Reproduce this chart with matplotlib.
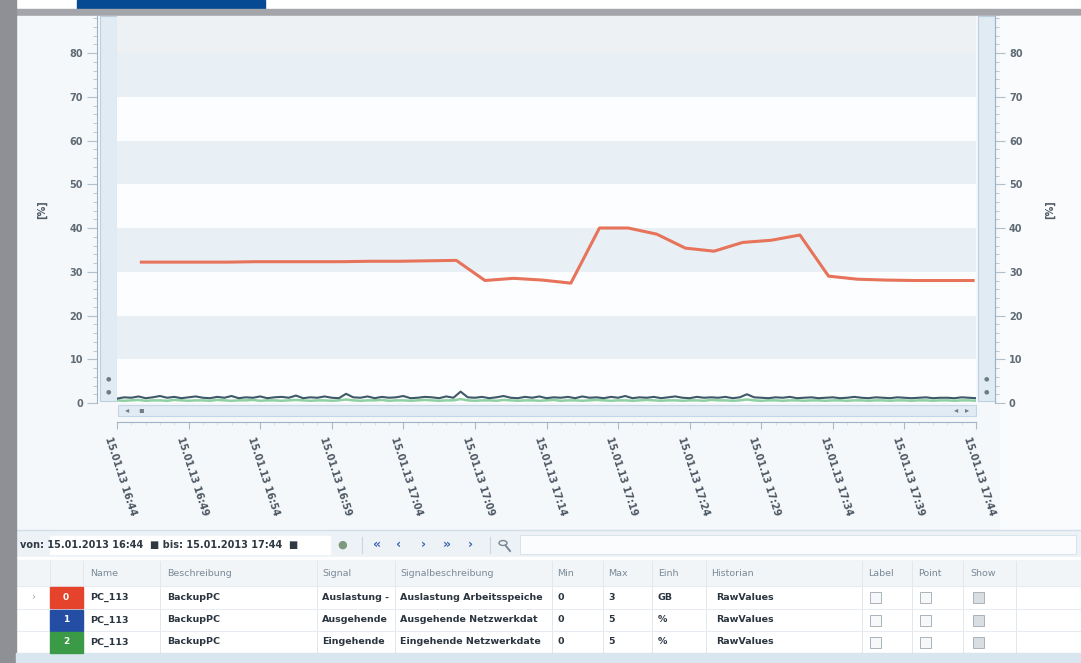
import numpy as np
import matplotlib
matplotlib.use("Agg")
import matplotlib.pyplot as plt
from matplotlib.patches import Rectangle, Circle
from matplotlib.lines import Line2D
from matplotlib.transforms import ScaledTranslation

# ---------------- data ----------------
tick_labels = ["15.01.13 16:44", "15.01.13 16:49", "15.01.13 16:54", "15.01.13 16:59",
               "15.01.13 17:04", "15.01.13 17:09", "15.01.13 17:14", "15.01.13 17:19",
               "15.01.13 17:24", "15.01.13 17:29", "15.01.13 17:34", "15.01.13 17:39",
               "15.01.13 17:44"]
tick_minutes = [0, 5, 10, 15, 20, 25, 30, 35, 40, 45, 50, 55, 60]

# series 0: Auslastung Arbeitsspeicher (minutes after 16:44)
red_t = [1.7, 3.7, 5.7, 7.7, 9.7, 11.7, 13.7, 15.7, 17.7, 19.7,
         21.7, 23.7, 25.7, 27.7, 29.7, 31.7, 33.7, 35.7, 37.7, 39.7,
         41.7, 43.7, 45.7, 47.7, 49.7, 51.7, 53.7, 55.7, 57.7, 59.8]
red_v = [32.2, 32.2, 32.2, 32.2, 32.3, 32.3, 32.3, 32.3, 32.4, 32.4,
         32.5, 32.6, 28.0, 28.5, 28.1, 27.4, 40.0, 40.0, 38.6, 35.4,
         34.7, 36.7, 37.2, 38.4, 29.0, 28.3, 28.1, 28.0, 28.0, 28.0]

# series 1: Ausgehende Netzwerkdaten (one sample per half minute)
blue_v = [1.0, 1.3, 1.2, 1.5, 1.1, 1.3, 1.6, 1.2, 1.4, 1.1,
          1.3, 1.5, 1.2, 1.1, 1.4, 1.2, 1.6, 1.1, 1.3, 1.2,
          1.5, 1.1, 1.3, 1.4, 1.2, 1.7, 1.1, 1.3, 1.2, 1.5,
          1.2, 1.1, 2.1, 1.3, 1.2, 1.5, 1.1, 1.4, 1.2, 1.3,
          1.6, 1.1, 1.2, 1.4, 1.3, 1.1, 1.5, 1.2, 2.6, 1.3,
          1.2, 1.4, 1.1, 1.3, 1.6, 1.2, 1.1, 1.4, 1.2, 1.5,
          1.1, 1.3, 1.2, 1.4, 1.1, 1.5, 1.2, 1.3, 1.1, 1.4,
          1.2, 1.6, 1.1, 1.3, 1.2, 1.4, 1.1, 1.3, 1.5, 1.2,
          1.1, 1.4, 1.2, 1.3, 1.2, 1.4, 1.1, 1.3, 2.0, 1.3,
          1.2, 1.1, 1.3, 1.2, 1.4, 1.1, 1.2, 1.3, 1.1, 1.2,
          1.3, 1.1, 1.2, 1.4, 1.2, 1.1, 1.3, 1.2, 1.1, 1.3,
          1.2, 1.1, 1.2, 1.3, 1.1, 1.2, 1.2, 1.1, 1.3, 1.2, 1.1]
# series 2: Eingehende Netzwerkdaten
green_v = [0.6, 0.5, 0.6, 0.7, 0.5, 0.6, 0.6, 0.5, 0.7, 0.6,
           0.5, 0.6, 0.6, 0.5, 0.7, 0.6, 0.5, 0.6, 0.6, 0.7,
           0.5, 0.6, 0.6, 0.5, 0.6, 0.7, 0.6, 0.5, 0.6, 0.6,
           0.5, 0.6, 0.8, 0.6, 0.5, 0.6, 0.6, 0.7, 0.5, 0.6,
           0.6, 0.5, 0.6, 0.7, 0.6, 0.5, 0.6, 0.6, 0.9, 0.6,
           0.5, 0.6, 0.6, 0.5, 0.7, 0.6, 0.5, 0.6, 0.6, 0.5,
           0.6, 0.7, 0.5, 0.6, 0.6, 0.5, 0.6, 0.7, 0.6, 0.5,
           0.6, 0.6, 0.5, 0.6, 0.7, 0.6, 0.5, 0.6, 0.6, 0.5,
           0.6, 0.6, 0.5, 0.7, 0.6, 0.6, 0.5, 0.6, 0.8, 0.6,
           0.5, 0.6, 0.6, 0.5, 0.6, 0.6, 0.5, 0.6, 0.6, 0.5,
           0.6, 0.6, 0.5, 0.6, 0.6, 0.5, 0.6, 0.6, 0.5, 0.6,
           0.6, 0.5, 0.6, 0.6, 0.5, 0.6, 0.6, 0.5, 0.6, 0.6, 0.5]
half_minutes = np.arange(len(blue_v)) * 0.5

y_ticks = [0, 10, 20, 30, 40, 50, 60, 70, 80]

table_header = ["Name", "Beschreibung", "Signal", "Signalbeschreibung", "Min", "Max",
                "Einh", "Historian", "Label", "Point", "Show"]
table_rows = [
    ["PC_113", "BackupPC", "Auslastung -", "Auslastung Arbeitsspeiche", "0", "3", "GB", "RawValues"],
    ["PC_113", "BackupPC", "Ausgehende", "Ausgehende Netzwerkdat", "0", "5", "%", "RawValues"],
    ["PC_113", "BackupPC", "Eingehende", "Eingehende Netzwerkdate", "0", "5", "%", "RawValues"],
]
row_ids = ["0", "1", "2"]
row_colors = ["#e5432c", "#234ea3", "#3b9a45"]

# ---------------- figure ----------------
W, H = 1081, 663
fig = plt.figure(figsize=(W / 100, H / 100), dpi=100, facecolor="#f4f7fa")


def R(x0, y0, x1, y1, z=-5, **kw):
    fig.add_artist(Rectangle((x0 / W, 1 - y1 / H), (x1 - x0) / W, (y1 - y0) / H,
                             transform=fig.transFigure, zorder=z, **kw))


def T(x, y, s, **kw):
    kw.setdefault("fontsize", 7)
    kw.setdefault("va", "center")
    fig.text(x / W, 1 - y / H, s, **kw)


def L(x0, y0, x1, y1, **kw):
    kw.setdefault("zorder", -4)
    fig.add_artist(Line2D([x0 / W, x1 / W], [1 - y0 / H, 1 - y1 / H],
                          transform=fig.transFigure, **kw))


# frame / chrome
R(0, 0, W, 9, color="white")
R(77, 0, 265, 9, color="#064a93")
R(0, 9, W, 16, color="#a4a5aa")
R(0, 0, 16, H, color="#8f9095", z=-3)
R(16, 16, W, 530, color="#f5f8fa")
R(1000, 16, W, 530, color="#f9fbfc")
# scroll bars
R(100, 16, 117, 401, color="#e0ebf3", ec="#bcd0df", lw=0.8)
R(978, 16, 995, 401, color="#e0ebf3", ec="#bcd0df", lw=0.8)
R(118, 405, 976, 416, color="#e1ebf3", ec="#c4d6e4", lw=0.8)
for (x, y) in [(108, 379), (108, 392), (986, 379), (986, 392)]:
    T(x, y, "\u25cf", fontsize=4.5, color="#6e7c88", ha="center")
T(127, 410, "\u25c2", fontsize=6, color="#6e7c88", ha="center")
T(141, 410, "\u25aa", fontsize=6, color="#6e7c88", ha="center")
T(956, 410, "\u25c2", fontsize=6, color="#6e7c88", ha="center")
T(967, 410, "\u25b8", fontsize=6, color="#6e7c88", ha="center")

# ---------------- chart ----------------
ax = fig.add_axes([117 / W, 1 - 403 / H, (976 - 117) / W, (403 - 16) / H])
ax.set_facecolor("#fcfdfe")
ax.set_xlim(0, 60)
ax.set_ylim(0, 88.46)
for lo, hi, c in [(10, 20, "#e9f0f5"), (30, 40, "#e9f0f5"), (50, 60, "#e9f0f5"),
                  (70, 80, "#e9f0f5"), (80, 88.46, "#edf1f4")]:
    ax.axhspan(lo, hi, color=c, lw=0, zorder=0)

ax.plot(half_minutes, green_v, color="#8fd1a3", lw=1.8, zorder=3)
ax.plot(half_minutes, blue_v, color="#3e5a68", lw=1.5, zorder=4)
ax.plot(red_t, red_v, color="#e6735a", lw=2.2, zorder=5, solid_joinstyle="round")

spine_c = "#9db3c5"
for s in ["top", "right"]:
    ax.spines[s].set_visible(False)
ax.spines["left"].set_position(("outward", 14.4))
ax.spines["bottom"].set_position(("outward", 13.7))
ax.spines["left"].set_color(spine_c)
ax.spines["bottom"].set_color(spine_c)

tick_lab_c = "#606b76"
ax.set_yticks(y_ticks)
ax.set_yticks(np.arange(0, 89, 2), minor=True)
ax.set_yticklabels([str(v) for v in y_ticks])
ax.tick_params(axis="y", which="major", length=7, width=0.8, color="#b0c0cc",
               labelsize=7, labelcolor=tick_lab_c, pad=3)
ax.tick_params(axis="y", which="minor", length=3, width=0.6, color="#b0c0cc")
for lab in ax.get_yticklabels():
    lab.set_fontweight("bold")
ax.set_ylabel("[%]", fontsize=7, fontweight="bold", color="#4d5863", labelpad=16)

ax.set_xticks(tick_minutes)
ax.set_xticks(np.arange(0, 61, 1), minor=True)
ax.set_xticklabels(tick_labels, rotation=-72, rotation_mode="anchor",
                   ha="left", va="center", fontsize=7, fontweight="bold", color="#4c5763")
ax.tick_params(axis="x", which="major", length=5, width=0.8, color="#a8bac8", pad=6)
ax.tick_params(axis="x", which="minor", length=2, width=0.5, color="#cbd7e0")
off = ScaledTranslation(-9 / 100, 0, fig.dpi_scale_trans)
for lab in ax.get_xticklabels():
    lab.set_transform(lab.get_transform() + off)

ax2 = ax.twinx()
ax2.set_ylim(ax.get_ylim())
for s in ["top", "left", "bottom"]:
    ax2.spines[s].set_visible(False)
ax2.spines["right"].set_position(("outward", 13.7))
ax2.spines["right"].set_color(spine_c)
ax2.set_yticks(y_ticks)
ax2.set_yticks(np.arange(0, 89, 2), minor=True)
ax2.set_yticklabels([str(v) for v in y_ticks])
ax2.tick_params(axis="y", which="major", length=7, width=0.8, color="#b0c0cc",
                labelsize=7, labelcolor=tick_lab_c, pad=3)
ax2.tick_params(axis="y", which="minor", length=3, width=0.6, color="#b0c0cc")
for lab in ax2.get_yticklabels():
    lab.set_fontweight("bold")
ax2.set_ylabel("[%]", fontsize=7, fontweight="bold", color="#4d5863", labelpad=16)

# ---------------- toolbar ----------------
L(16, 530, W, 530, color="#d2dee8", lw=1)
R(16, 531, W, 557, color="#ecf2f6")
R(50, 536, 330, 554, color="white", z=-4)
R(520, 535, 1076, 554, color="#fafcfd", ec="#d5e0e8", lw=0.6, z=-4)
T(20, 545, "von: 15.01.2013 16:44  \u25a0 bis: 15.01.2013 17:44  \u25a0",
  color="#2e3944", fontsize=7, fontweight="bold")
T(342, 545, "\u25cf", color="#7e9a7e", fontsize=8, ha="center")
L(362, 537, 362, 553, color="#c9d6e0", lw=0.8)
for x, s in [(377, "\u00ab"), (399, "\u2039"), (423, "\u203a"), (447, "\u00bb"), (470, "\u203a")]:
    T(x, 544, s, color="#3a64b4", fontsize=9, fontweight="bold", ha="center")
L(490, 537, 490, 553, color="#c9d6e0", lw=0.8)
fig.add_artist(Circle((503 / W, 1 - 543 / H), 4 / W, transform=fig.transFigure,
                      fill=False, ec="#7a8894", lw=1.0, zorder=3))
L(506, 546, 510, 551, color="#7a8894", lw=1.4, zorder=3)

# ---------------- table ----------------
R(16, 557, W, 653, color="white")
R(16, 560, W, 586, color="#f1f5f8", z=-4)
R(16, 653, W, H, color="#d9e6ef", z=-3)
col_sep = [50, 83, 160, 317, 395, 552, 603, 652, 706, 862, 912, 963, 1016]
for x in col_sep:
    L(x, 561, x, 653, color="#e0e7ed", lw=0.7)
for y in [586, 609, 631]:
    L(16, y, W, y, color="#e6ecf1", lw=0.7)

header_x = [90, 167, 322, 400, 557, 608, 658, 711, 868, 918, 970]
for x, s in zip(header_x, table_header):
    T(x, 573, s, color="#7a8a98", fontsize=6.8)

row_y = [597, 620, 642]
data_x = [90, 167, 322, 400, 557, 608, 658, 716]
for yy, row, rid, rc in zip(row_y, table_rows, row_ids, row_colors):
    R(50, yy - 10.5, 83, yy + 10.5, color=rc, z=-3)
    T(66, yy, rid, color="white", fontsize=6.5, ha="center", fontweight="bold")
    for x, s in zip(data_x, row):
        T(x, yy, s, color="#2b3540", fontsize=6.8, fontweight="bold")
    for cx, filled in [(875, False), (925, False), (978, True)]:
        R(cx - 5.5, yy - 5.5, cx + 5.5, yy + 5.5, z=2,
          fc="#d9dee3" if filled else "#f7f8f9", ec="#a9b3bc", lw=0.7)
T(33, 597, "\u203a", color="#9aa6b0", fontsize=7, ha="center")

fig.savefig("out.png", dpi=100, facecolor=fig.get_facecolor())
